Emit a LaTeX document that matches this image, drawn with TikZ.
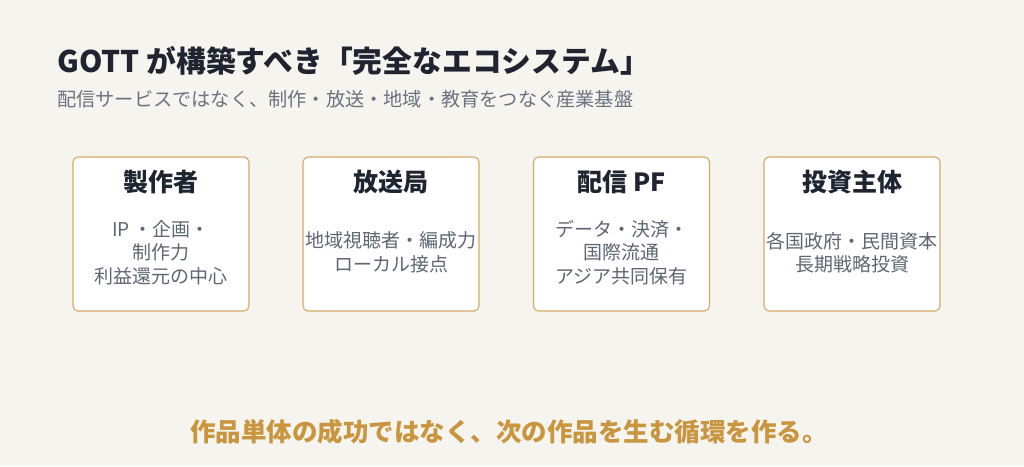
\documentclass[tikz,border=0pt]{standalone}
\usepackage{fontspec}
\setmainfont{Noto Sans CJK JP}
\usetikzlibrary{positioning}
\definecolor{bgcream}{HTML}{F5F4EF}
\definecolor{inkdark}{HTML}{1F2430}
\definecolor{inkgrey}{HTML}{5F6673}
\definecolor{subgrey}{HTML}{6B7280}
\definecolor{cardline}{HTML}{D6AA66}
\definecolor{goldtext}{HTML}{C9953F}

\begin{document}
\begin{tikzpicture}[x=1pt,y=1pt]
				\tikzstyle{card}=[draw=cardline,fill=white,rounded corners=5pt,line width=1.1pt,
				minimum width=176pt,minimum height=154pt,inner sep=0pt]
				\tikzstyle{cardhead}=[font=\fontsize{25}{30}\selectfont\bfseries,text=inkdark,inner sep=0pt]
				\tikzstyle{cardbody}=[font=\fontsize{19}{23.5}\selectfont,text=inkgrey,align=center,inner sep=0pt]
				\fill[bgcream] (0,0) rectangle (1024,466);
				\useasboundingbox (0,0) rectangle (1024,466);
				% heading
				\node[anchor=base west,inner sep=0pt,text=inkdark,font=\fontsize{29.8}{35}\selectfont\bfseries] (title) at (57,393)
				{GOTT が構築すべき「完全なエコシステム」};
				\node[anchor=base west,inner sep=0pt,text=subgrey,font=\fontsize{19.2}{23}\selectfont] (subtitle) at (57,359)
				{配信サービスではなく、制作・放送・地域・教育をつなぐ産業基盤};
				% four actors
				\node[card] (maker) at (161,232) {};
				\node[card] (broadcast) at (391,232) {};
				\node[card] (platform) at (621.5,232) {};
				\node[card] (investor) at (852,232) {};
				\node[cardhead] (makerhead) at ([yshift=-26pt]maker.north) {製作者};
				\node[cardhead] (broadcasthead) at ([yshift=-26pt]broadcast.north) {放送局};
				\node[cardhead] (platformhead) at ([yshift=-26pt]platform.north) {配信 PF};
				\node[cardhead] (investorhead) at ([yshift=-26pt]investor.north) {投資主体};
				\node[cardbody] (makerbody) at ([yshift=-18.5pt]maker.center) {IP ・企画・\\制作力\\利益還元の中心};
				\node[cardbody] (broadcastbody) at ([yshift=-18.5pt]broadcast.center) {地域視聴者・編成力\\ローカル接点};
				\node[cardbody] (platformbody) at ([yshift=-18.5pt]platform.center) {データ・決済・\\国際流通\\アジア共同保有};
				\node[cardbody] (investorbody) at ([yshift=-18.5pt]investor.center) {各国政府・民間資本\\長期戦略投資};
				% message
				\node[inner sep=0pt,text=goldtext,font=\fontsize{25.5}{30}\selectfont\bfseries] (message) at (509,34)
				{作品単体の成功ではなく、次の作品を生む循環を作る。};
\end{tikzpicture}
\end{document}
